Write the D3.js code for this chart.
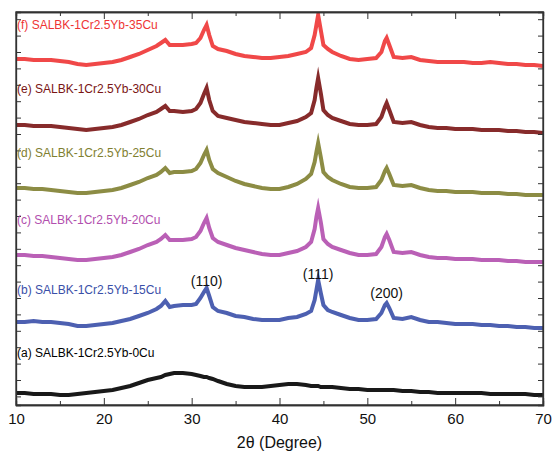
<!DOCTYPE html>
<html><head><meta charset="utf-8">
<script src="https://cdn.jsdelivr.net/npm/d3@7"></script>
<style>body{margin:0;background:#fff}svg{display:block}</style>
</head><body>
<svg id="chart" width="552" height="452"></svg>
<script>
const twoTheta = [10,11,12,13,14,15,16,17,18,19,20,21,22,23,24,25,26,26.5,27,27.5,28,29,30,30.5,31,31.4,31.7,32,32.4,33,34,35,36,37,38,39,40,41,42,43,43.6,44,44.2,44.4,44.7,45,45.5,46,47,48,49,50,51,51.6,52,52.2,52.5,53,54,55,56,57,58,59,60,61,62,63,64,65,66,67,68,69,70];
const seriesA = [12,12,11,11,11,10,10,11,12,13,14,15,17,19,22,25,27,28,30,31,32,32,31,30,29,28,28,27,26,24,21,19,18,18,18,19,20,21,21,20,19,19,19,19,18,18,18,18,17,16,16,15,15,15,15,15,15,15,14,14,13,13,12,12,12,12,12,12,11,11,11,11,11,10,10];
const seriesB = [83,83,84,83,83,82,81,79,79,80,81,82,84,86,89,92,96,99,104,98,99,100,100,101,107,113,117,109,98,94,92,89,88,86,85,85,85,87,88,91,94,105,115,125,112,100,95,93,90,87,85,85,86,92,100,102,97,87,86,88,85,83,83,82,81,81,81,80,80,79,79,78,78,77,77];
const seriesC = [150,150,149,149,148,147,146,145,145,146,147,148,150,153,156,160,163,166,170,165,165,165,166,168,174,182,187,177,167,163,160,157,155,153,151,150,150,152,154,158,163,176,188,197,183,166,161,158,155,152,150,150,151,158,168,171,165,153,152,153,150,148,147,147,146,146,146,145,145,145,144,144,143,143,143];
const seriesD = [217,217,216,216,215,214,213,212,212,213,214,215,217,220,223,227,230,233,237,232,233,233,234,236,242,250,255,245,236,232,228,224,221,219,217,216,216,218,221,226,231,243,253,262,248,233,228,225,221,218,217,217,218,225,234,237,231,220,219,220,217,215,214,214,213,213,213,212,212,212,211,211,210,210,210];
const seriesE = [280,280,279,279,279,278,277,276,275,276,277,278,280,283,286,290,293,296,299,294,294,293,294,296,302,311,317,305,294,289,287,285,283,282,281,280,280,282,284,288,292,305,317,327,312,295,290,287,284,281,280,280,281,288,298,302,295,283,282,283,280,278,277,277,276,276,276,275,275,275,274,274,273,273,272];
const seriesF = [346,346,345,345,345,344,343,341,340,341,342,343,345,348,351,355,359,362,365,360,360,360,361,362,367,375,380,370,359,356,354,351,349,348,347,347,348,349,351,353,357,370,380,390,375,360,356,353,349,346,345,346,347,353,364,367,360,348,347,348,345,344,343,343,343,343,342,342,343,342,341,341,340,340,339];
const sampleLabels = ["(a) SALBK-1Cr2.5Yb-0Cu","(b) SALBK-1Cr2.5Yb-15Cu","(c) SALBK-1Cr2.5Yb-20Cu","(d) SALBK-1Cr2.5Yb-25Cu","(e) SALBK-1Cr2.5Yb-30Cu","(f) SALBK-1Cr2.5Yb-35Cu"];
const seriesColors = ["#000000","#3a4fa8","#b24fae","#7f8030","#7a1414","#ee3434"];
const xTicks = [10,20,30,40,50,60,70];
const xMinorTicks = [15,25,35,45,55,65];
const peakLabels = ["(110)","(111)","(200)"];
const peakPos = [31.7,44.4,52.2];
const peakLabelValue = [124,131,112];
const labelValue = [52,115,185,252,316,380];

const allSeries = [seriesA,seriesB,seriesC,seriesD,seriesE,seriesF];
const W=552,H=452, m={l:16,r:9,t:12,b:47};
const svg=d3.select("#chart");
const x=d3.scaleLinear().domain([10,70]).range([m.l,W-m.r]);
const y=d3.scaleLinear().domain([0,393]).range([H-m.b,m.t]);
const yTicks=d3.range(8.6,393,16.4);

svg.append("clipPath").attr("id","clip").append("rect")
  .attr("x",m.l).attr("y",m.t).attr("width",W-m.l-m.r).attr("height",H-m.t-m.b);

const line=d3.line().x((d,i)=>x(twoTheta[i])).y(d=>y(d));
const g=svg.append("g").attr("clip-path","url(#clip)");
allSeries.forEach((s,k)=>{
  g.append("path").datum(s).attr("d",line).attr("fill","none")
   .attr("stroke",seriesColors[k]).attr("stroke-width",4).attr("stroke-opacity",0.9)
   .attr("stroke-linejoin","miter").attr("stroke-miterlimit",6);
});

const bottom=d3.axisBottom(x).tickValues(xTicks).tickSize(-7).tickFormat(d3.format("d")).tickPadding(8);
const gb=svg.append("g").attr("transform",`translate(0,${H-m.b})`).call(bottom);
gb.selectAll("text").attr("font-family","Liberation Sans, Arial, sans-serif").attr("font-size",15).attr("fill","#111");
svg.append("g").attr("transform",`translate(0,${H-m.b})`).call(d3.axisBottom(x).tickValues(xMinorTicks).tickSize(-4).tickFormat(""));
svg.append("g").attr("transform",`translate(0,${m.t})`).call(d3.axisTop(x).tickValues(xTicks).tickSize(-7).tickFormat(""));
svg.append("g").attr("transform",`translate(0,${m.t})`).call(d3.axisTop(x).tickValues(xMinorTicks).tickSize(-4).tickFormat(""));
svg.append("g").attr("transform",`translate(${m.l},0)`).call(d3.axisLeft(y).tickValues(yTicks).tickSize(-5).tickFormat(""));
svg.append("g").attr("transform",`translate(${W-m.r},0)`).call(d3.axisRight(y).tickValues(yTicks).tickSize(-5).tickFormat(""));
svg.selectAll(".domain").attr("stroke","#333").attr("stroke-width",1.3);
svg.selectAll(".tick line").attr("stroke","#333").attr("stroke-width",1);
svg.append("rect").attr("x",m.l).attr("y",m.t).attr("width",W-m.l-m.r).attr("height",H-m.t-m.b)
  .attr("fill","none").attr("stroke","#333").attr("stroke-width",1.3);

svg.append("text").attr("x",x(40)).attr("y",448).attr("text-anchor","middle")
  .attr("font-family","Liberation Sans, Arial, sans-serif").attr("font-size",16).attr("fill","#111")
  .text("2θ (Degree)");

sampleLabels.forEach((t,k)=>{
  svg.append("text").attr("x",m.l+1).attr("y",y(labelValue[k])).attr("dy","0.35em")
   .attr("font-family","Liberation Sans, Arial, sans-serif").attr("font-size",12)
   .attr("fill",seriesColors[k]).text(t);
});
peakLabels.forEach((t,k)=>{
  svg.append("text").attr("x",x(peakPos[k])).attr("y",y(peakLabelValue[k])).attr("dy","0.35em")
   .attr("text-anchor","middle").attr("font-family","Liberation Sans, Arial, sans-serif")
   .attr("font-size",14).attr("fill","#111").text(t);
});
</script>
</body></html>
